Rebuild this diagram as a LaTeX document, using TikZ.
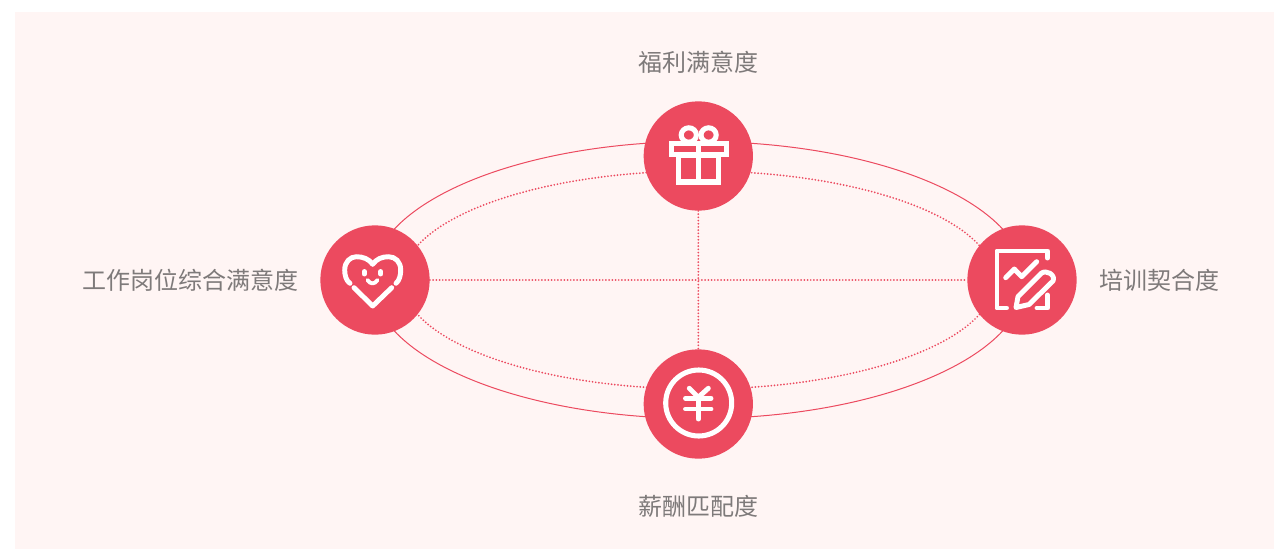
\documentclass[tikz,border=0pt]{standalone}
\usepackage{fontspec}
\setmainfont{Noto Sans CJK SC}[Scale=1]
\definecolor{bgpink}{HTML}{FFF5F4}
\definecolor{rosered}{HTML}{EC4A5F}
\definecolor{txtgray}{HTML}{7E7A7A}
\tikzset{
  hub/.style={circle,fill=rosered,minimum size=82pt,inner sep=0pt},
  lab/.style={text=txtgray,font=\fontsize{18pt}{22pt}\selectfont,inner sep=0pt},
  solidring/.style={rosered,line width=0.75pt},
  dotring/.style={rosered,line width=1.45pt,line cap=round,dash pattern=on 0pt off 2.4pt},
  icon/.style={white,line width=3.7pt,line cap=round,line join=round},
  iconmiter/.style={white,line width=3.8pt,line cap=butt,line join=miter}
}
\begin{document}
\begin{tikzpicture}[x=0.75pt,y=-0.75pt]
\useasboundingbox (0,0) rectangle (1274,550);
\fill[bgpink] (15,12) rectangle (1274,549);
\draw[solidring] (698.5,280) ellipse [x radius=327,y radius=138.5];
\draw[dotring] (698.5,280) ellipse [x radius=296,y radius=109];
\node[hub] (top) at (698.3,156) {};
\node[hub] (bot) at (698.3,404) {};
\node[hub] (lft) at (375,280) {};
\node[hub] (rgt) at (1022,280) {};
\draw[dotring] (lft) -- (rgt);
\draw[dotring] (top) -- (bot);
\node[lab] (t1) at (698,62) {福利满意度};
\node[lab] (t2) at (698,506) {薪酬匹配度};
\node[lab] (t3) at (190.5,280.5) {工作岗位综合满意度};
\node[lab] (t4) at (1159,280.5) {培训契合度};
% gift
\draw[iconmiter] (671.5,143.5) rectangle (726.3,154.5);
\draw[iconmiter] (678.8,155) rectangle (718.8,182);
\draw[iconmiter] (698.7,143) -- (698.7,182);
\draw[iconmiter] (688.8,135) ellipse [x radius=7.6,y radius=7.2];
\draw[iconmiter] (708.6,135) ellipse [x radius=7.6,y radius=7.2];
% heart
\draw[icon] (350,283.3) .. controls (346,280.5) and (344.7,275) .. (344.7,270) .. controls (344.7,262) and (350,256.7) .. (356.5,256.7) .. controls (363,256.7) and (369,259) .. (372.7,264.3) .. controls (376.4,259) and (382,256.7) .. (388.5,256.7) .. controls (395.5,256.7) and (400.7,262) .. (400.7,270) .. controls (400.7,275) and (399.5,280.5) .. (396,283.3);
\draw[icon] (354,287.7) -- (372.7,306) -- (391.7,287.7);
\draw[icon] (364.3,271.5) -- (364.3,274);
\draw[icon] (380.7,271.5) -- (380.7,274);
\draw[icon,line width=2.9pt] (367.5,280) .. controls (370,284.5) and (375,284.5) .. (377.5,280);
% note
\draw[icon] (1006.5,308) -- (997,308) -- (997,251) -- (1047.5,251) -- (1047.5,258);
\draw[icon] (1037,308) -- (1047.5,308) -- (1047.5,295);
\draw[icon] (1005.7,277.7) -- (1014.3,269) -- (1021.7,276.7) -- (1036.7,261.7);
\draw[icon] (1016,307.5) -- (1018,296.5) -- (1041,273.5) .. controls (1046,269) and (1056,275) .. (1053,281) -- (1029,304.5) -- cycle;
% yen
\draw[white,line width=3.8pt] (698.7,403) circle [radius=33];
\draw[icon] (689.3,388.3) -- (698.3,397.3) -- (708.3,388.3);
\draw[icon] (685.5,398.3) -- (711,398.3);
\draw[icon] (685.5,409) -- (711,409);
\draw[icon] (698.3,397.3) -- (698.3,419);
\end{tikzpicture}
\end{document}
